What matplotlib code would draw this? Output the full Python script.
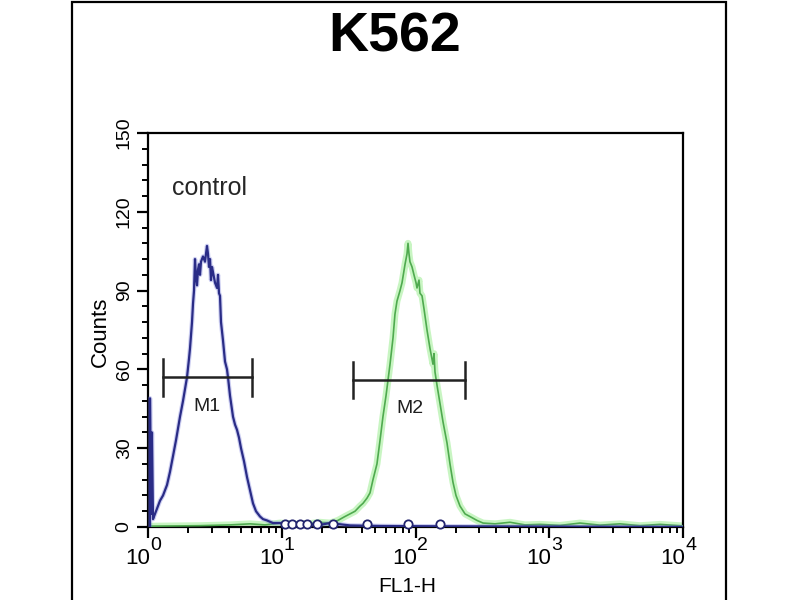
import matplotlib
matplotlib.use("Agg")
import matplotlib.pyplot as plt
from matplotlib import font_manager
from matplotlib.patches import Rectangle
from matplotlib.ticker import FixedLocator, LogLocator, MultipleLocator, NullFormatter

# blue histogram (control), FL1-H value vs counts
BLUE_X = [1.035, 1.035, 1.053, 1.071, 1.090, 1.128, 1.188, 1.229, 1.295, 1.387,
          1.460, 1.538, 1.619, 1.735, 1.827, 1.957, 2.025, 2.061, 2.133, 2.170,
          2.208, 2.246, 2.285, 2.325, 2.365, 2.406, 2.448, 2.490, 2.578, 2.668,
          2.761, 2.809, 2.858, 2.908, 2.958, 3.010, 3.062, 3.170, 3.281, 3.338,
          3.395, 3.454, 3.514, 3.637, 3.765, 3.896, 3.964, 4.103, 4.320, 4.472,
          4.628, 4.791, 4.959, 5.223, 5.499, 5.789, 6.095, 6.419, 6.877, 7.240,
          7.757, 8.603, 9.70, 11.5, 13.7, 19.3, 22.9, 32.4, 54.3, 108, 428, 10000]
BLUE_Y = [0, 49, 5, 36, 3, 5, 8, 10, 12, 16,
          21, 27, 33, 42, 48, 57, 64, 68, 78, 85,
          90, 102, 95, 92, 98, 100, 96, 101, 103, 101,
          107, 104, 99, 102, 94, 99, 97, 93, 91, 96,
          89, 88, 78, 71, 63, 60, 57, 50, 42, 39,
          37, 34, 30, 25, 19, 14, 9, 6, 4, 3,
          2.5, 1.5, 1.5, 1, 1.2, 0.8, 1.5, 0.6, 0.4, 0.3, 0.2, 0]

# green histogram (K562 stained)
GREEN_X = [1.035, 2.448, 4.103, 5.789, 7.497, 9.70, 12.57, 16.27, 19.3, 22.9,
           26.3, 29.7, 32.4, 35.3, 38.5, 40.5, 43.4, 45.7, 48.1, 51.5,
           54.3, 57.1, 60.2, 64.5, 67.9, 70.2, 72.7, 76.6, 79.3, 83.5,
           86.4, 87.9, 89.4, 90.9, 94.2, 97.4, 100.9, 102.6, 106.2, 108,
           111.9, 115.8, 121.9, 128.3, 132.8, 135.1, 137.5, 139.9, 144.8, 152.5,
           160.6, 172, 181.1, 190.7, 200.8, 215, 234.5, 255, 288.3, 320,
           393, 509, 659, 853, 1204, 1698, 2395, 3381, 4770, 6730, 10000]
GREEN_Y = [0.3, 0.5, 0.8, 1.2, 0.8, 1.5, 1, 1.3, 1.8, 1.5,
           2.5, 4, 5, 6, 8, 9, 11, 13, 18, 24,
           33, 42, 50, 62, 72, 81, 86, 90, 93, 100,
           104, 108, 104, 101, 99, 96, 93, 91, 94, 89,
           88, 83, 75, 68, 64, 62, 66, 59, 54, 47,
           40, 32, 24, 17, 12, 8, 5, 4, 2.5, 1.5,
           1.2, 1.8, 0.8, 1, 0.6, 1.5, 0.7, 1.2, 0.5, 1, 0.4]

# small open circles sitting on the baseline
DOT_X = [10.6, 11.9, 13.7, 15.4, 18.3, 24.2, 43.4, 87.9, 152.5]
DOT_Y = [1.2, 1.2, 1.2, 1.2, 1.2, 1.2, 1.2, 1.2, 1.2]

# marker gates: (left, right, height, label x, label y, name)
GATES = [
    (1.29, 6.0, 57, 2.76, 46, "M1"),
    (34.1, 234, 56, 91, 45, "M2"),
]

X_TICKS = [1, 10, 100, 1000, 10000]
X_TICK_BASE = "10"
X_TICK_EXP = ["0", "1", "2", "3", "4"]
Y_TICKS = [0, 30, 60, 90, 120, 150]

TITLE = "K562"
X_LABEL = "FL1-H"
Y_LABEL = "Counts"
NOTE = "control"

installed = {f.name for f in font_manager.fontManager.ttflist}
NARROW = "Liberation Sans Narrow" if "Liberation Sans Narrow" in installed else "Liberation Sans"
NARROW_FAM = [NARROW, "DejaVu Sans"]

plt.rcParams["font.family"] = ["Liberation Sans", "DejaVu Sans"]

fig = plt.figure(figsize=(8, 6), dpi=100)
fig.patch.set_facecolor("white")

# outer frame of the panel (runs off the bottom)
fig.patches.append(Rectangle((72 / 800, -0.05), (726 - 72) / 800, 1.047,
                             transform=fig.transFigure, fill=False,
                             edgecolor="black", linewidth=1.6, clip_on=False))

ax = fig.add_axes([148 / 800, 1 - 527 / 600, (683 - 148) / 800, (527 - 133) / 600])
ax.set_xscale("log")
ax.set_xlim(1, 10000)
ax.set_ylim(0, 150)

# green trace with a soft halo
ax.plot(GREEN_X, GREEN_Y, color="#b6f2ae", lw=5, alpha=0.75, zorder=2)
ax.plot(GREEN_X, GREEN_Y, color="#4faa4f", lw=1.2, zorder=3)

ax.plot(BLUE_X, BLUE_Y, color="#6f74d8", lw=3.2, alpha=0.35, zorder=4)
ax.plot(BLUE_X, BLUE_Y, color="#2a2c86", lw=1.6, zorder=5)
ax.plot(DOT_X, DOT_Y, ls="none", marker="o", ms=6, mfc="white",
        mec="#22246e", mew=1.3, zorder=6, clip_on=False)

for left, right, height, lx, ly, name in GATES:
    ax.plot([left, right], [height, height], color="#222222", lw=1.8, zorder=7)
    ax.plot([left, left], [height - 7, height + 7], color="#222222", lw=1.8, zorder=7)
    ax.plot([right, right], [height - 7, height + 7], color="#222222", lw=1.8, zorder=7)
    ax.text(lx, ly, name, ha="center", va="center", fontsize=14,
            family=NARROW_FAM, color="#1e1e1e", zorder=7)

ax.text(1.5, 129, NOTE, ha="left", va="center", fontsize=18, color="#262626")

for side in ["left", "right", "top", "bottom"]:
    ax.spines[side].set_linewidth(1.6)
    ax.spines[side].set_color("black")

ax.xaxis.set_major_locator(FixedLocator(X_TICKS))
ax.xaxis.set_major_formatter(NullFormatter())
ax.xaxis.set_minor_locator(LogLocator(base=10, subs=range(2, 10)))
ax.xaxis.set_minor_formatter(NullFormatter())
ax.yaxis.set_major_locator(FixedLocator(Y_TICKS))
ax.yaxis.set_minor_locator(MultipleLocator(6))

ax.tick_params(axis="both", which="major", direction="out", length=8, width=1.6,
               color="black")
ax.tick_params(axis="both", which="minor", direction="out", length=4, width=1.4,
               color="black")
ax.tick_params(axis="y", which="major", labelsize=14, pad=3)
for lab in ax.get_yticklabels():
    lab.set_rotation(90)
    lab.set_va("center")

# decade labels: "10" left of the tick, exponent raised to its right
for tick, exp in zip(X_TICKS, X_TICK_EXP):
    ax.annotate(X_TICK_BASE, xy=(tick, 0), xycoords=("data", "axes fraction"),
                xytext=(2, -32), textcoords="offset pixels", ha="right",
                va="center", fontsize=16, family=NARROW_FAM, annotation_clip=False)
    ax.annotate(exp, xy=(tick, 0), xycoords=("data", "axes fraction"),
                xytext=(2, -18), textcoords="offset pixels", ha="left",
                va="center", fontsize=14, family=NARROW_FAM, annotation_clip=False)

ax.set_xlabel(X_LABEL, fontsize=15, family=NARROW_FAM, va="top")
ax.xaxis.set_label_coords((407 - 148) / 535, (527 - 577) / 394)
ax.set_ylabel(Y_LABEL, fontsize=16, va="center")
ax.yaxis.set_label_coords((100 - 148) / 535, (527 - 332) / 394)

fig.text(395 / 800, 1 - 37 / 600, TITLE, ha="center", va="center",
         fontsize=40, fontweight="bold")

fig.savefig("out.png", dpi=100, facecolor="white")
